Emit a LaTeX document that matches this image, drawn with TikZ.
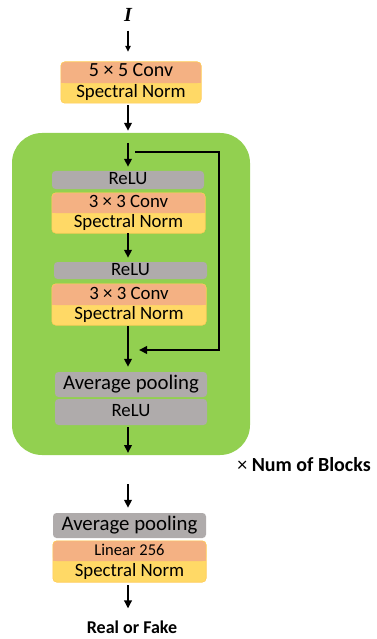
\documentclass[tikz,border=0pt]{standalone}
\usepackage{fontspec}
\setmainfont{Carlito}
\newfontfamily\serifbi{Liberation Serif}
\usetikzlibrary{arrows.meta,backgrounds}
\definecolor{convc}{HTML}{F4B183}
\definecolor{snc}{HTML}{FFD966}
\definecolor{reluc}{HTML}{AFABAB}
\definecolor{greenc}{HTML}{92D050}
\newcommand{\pairfill}[2]{%
  \fill[snc, rounded corners=4pt] (#1.north west) rectangle (#2.south east);
  \fill[convc, rounded corners=4pt] (#1.north west) rectangle (#1.south east);
  \fill[convc] (#1.west) rectangle (#1.south east);
  \draw[snc!85!orange, line width=0.6pt, rounded corners=4pt] (#1.north west) rectangle (#2.south east);
}
\begin{document}
\begin{tikzpicture}[x=1pt,y=-1pt,
  txt/.style={inner sep=0pt, font=\fontsize{18.8}{20}\selectfont, text height=12.5pt, text depth=3.5pt},
  big/.style={inner sep=0pt, font=\fontsize{20.8}{22}\selectfont, text height=13.5pt, text depth=4pt},
  greybox/.style={fill=reluc, rounded corners=3.5pt},
  thickarrow/.style={line width=2pt, -{Triangle[length=8pt,width=7.5pt]}},
  thinarrow/.style={line width=1.1pt, -{Triangle[length=6pt,width=5.5pt]}},
  lbl/.style={inner sep=0pt, font=\bfseries\fontsize{18}{20}\selectfont}
]
\useasboundingbox (0,0) rectangle (376,639);
\coordinate (ax) at (128,0);

% input
\node[inner sep=0pt, font=\serifbi\bfseries\itshape\fontsize{20}{22}\selectfont] (I) at (128,15) {I};

% first conv
\node[txt, font=\fontsize{20}{22}\selectfont, minimum width=140pt, minimum height=21pt] (c1) at (131,72.5) {5 × 5 Conv};
\node[txt, minimum width=140pt, minimum height=20pt] (s1) at (131,93) {Spectral Norm};

% block
\node[txt, greybox, minimum width=152pt, minimum height=18pt] (r1) at (128,180) {ReLU};
\node[txt, minimum width=153pt, minimum height=20pt] (c2) at (128.5,203) {3 × 3 Conv};
\node[txt, minimum width=153pt, minimum height=20pt] (s2) at (128.5,223) {Spectral Norm};
\node[txt, greybox, minimum width=153pt, minimum height=17pt] (r2) at (130.5,270.5) {ReLU};
\node[txt, minimum width=154pt, minimum height=21pt] (c3) at (129,294.5) {3 × 3 Conv};
\node[txt, minimum width=154pt, minimum height=20pt] (s3) at (129,315) {Spectral Norm};
\node[big, greybox, minimum width=152pt, minimum height=25pt] (ap1) at (131,384.5) {Average pooling};
\node[txt, greybox, minimum width=152pt, minimum height=26pt] (r3) at (131,412) {ReLU};

\node[inner sep=0pt, font=\fontsize{20}{22}\selectfont] (nb) at (304,465) {× \textbf{Num of Blocks}};

% head
\node[big, greybox, minimum width=153pt, minimum height=25pt] (ap2) at (129.5,525.5) {Average pooling};
\node[txt, font=\fontsize{16.5}{18}\selectfont, minimum width=153pt, minimum height=20pt] (lin) at (129.5,551) {Linear 256};
\node[txt, minimum width=153pt, minimum height=21pt] (s4) at (129.5,571.5) {Spectral Norm};
\node[lbl] (out) at (132,627) {Real or Fake};

\begin{scope}[on background layer]
  \node[fill=greenc, rounded corners=30pt, minimum width=238pt, minimum height=322pt, inner sep=0pt] (blk) at (131,294) {};
  \pairfill{c1}{s1}
  \pairfill{c2}{s2}
  \pairfill{c3}{s3}
  \pairfill{lin}{s4}
\end{scope}

% connectors
\coordinate (gin) at (128,143);
\coordinate (sk1) at (135,152);
\coordinate (sk2) at (219,350);
\coordinate (sk3) at (139,350);
\coordinate (gout) at (128,453);
\coordinate (hin) at (128,484);

\draw[thinarrow, shorten <=9pt, shorten >=10pt] (I.south) -- (I.south |- c1.north);
\draw[thickarrow, shorten <=2pt, shorten >=2pt] (ax |- s1.south) -- (ax |- blk.north);
\draw[thickarrow, shorten >=4pt] (gin) -- (ax |- r1.north);
\draw[line width=2pt, miter limit=10, -{Triangle[length=8pt,width=7.5pt]}] (sk1) -| (sk2) -- (sk3);
\draw[thickarrow, shorten >=4pt] (ax |- s2.south) -- (ax |- r2.north);
\draw[thickarrow, shorten <=1pt, shorten >=5pt] (ax |- s3.south) -- (ax |- ap1.north);
\draw[thickarrow, shorten <=2pt] (ax |- r3.south) -- (gout);
\draw[thickarrow, shorten >=5pt] (hin) -- (ax |- ap2.north);
\draw[thickarrow, shorten <=3pt, shorten >=12pt] (ax |- s4.south) -- (ax |- out.north);
\end{tikzpicture}
\end{document}
